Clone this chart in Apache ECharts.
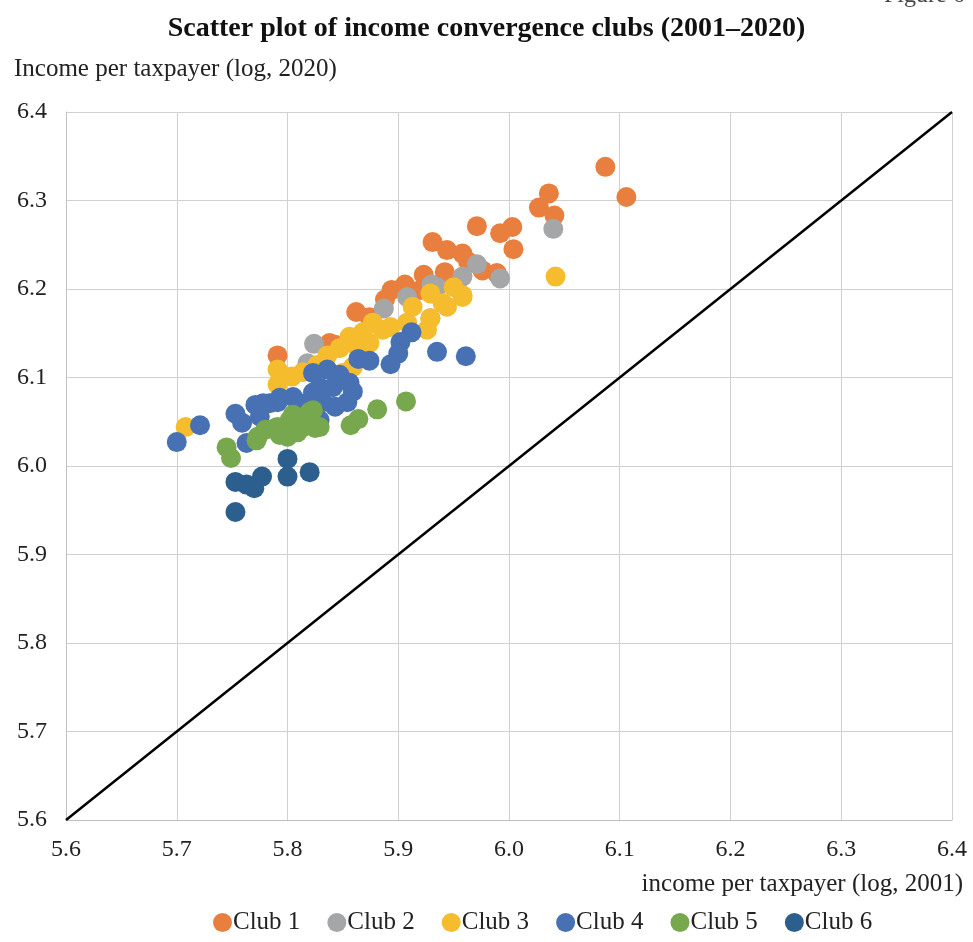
<!DOCTYPE html>
<html>
<head>
<meta charset="utf-8">
<script src="https://cdn.jsdelivr.net/npm/echarts@6/dist/echarts.min.js"></script>
<style>
  html, body { margin: 0; padding: 0; background: #fff; }
  #chart { width: 973px; height: 942px; }
</style>
</head>
<body>
<div id="chart"></div>
<script>
// Log income per taxpayer: [2001, 2020] for each region, grouped by club
const club1 = [
  [6.087, 6.338], [6.106, 6.304], [6.036, 6.308], [6.027, 6.292], [6.041, 6.283],
  [6.003, 6.270], [5.992, 6.263], [6.004, 6.245], [5.971, 6.271], [5.931, 6.253],
  [5.944, 6.244], [5.958, 6.240], [5.976, 6.221], [5.989, 6.218], [5.942, 6.219],
  [5.923, 6.216], [5.906, 6.205], [5.894, 6.199], [5.862, 6.174], [5.874, 6.168],
  [5.838, 6.139], [5.791, 6.125], [5.843, 6.137], [5.963, 6.231], [5.920, 6.199],
  [5.888, 6.188]
];
const club2 = [
  [6.040, 6.268], [5.992, 6.212], [5.971, 6.228], [5.958, 6.214], [5.930, 6.205],
  [5.908, 6.191], [5.887, 6.178], [5.824, 6.138], [5.818, 6.116], [5.935, 6.202],
  [5.929, 6.167]
];
const club3 = [
  [6.042, 6.214], [5.708, 6.044], [5.929, 6.195], [5.950, 6.202], [5.958, 6.191],
  [5.913, 6.180], [5.940, 6.184], [5.926, 6.154], [5.929, 6.167], [5.877, 6.162],
  [5.893, 6.157], [5.908, 6.162], [5.856, 6.146], [5.868, 6.151], [5.886, 6.154],
  [5.874, 6.139], [5.863, 6.134], [5.847, 6.133], [5.944, 6.180], [5.958, 6.193],
  [5.836, 6.125], [5.827, 6.114], [5.814, 6.106], [5.804, 6.101], [5.791, 6.109],
  [5.791, 6.092], [5.859, 6.112], [5.850, 6.105], [5.865, 6.139]
];
const club4 = [
  [5.935, 6.129], [5.961, 6.124], [5.912, 6.151], [5.902, 6.140], [5.900, 6.127],
  [5.893, 6.115], [5.864, 6.121], [5.874, 6.119], [5.721, 6.046], [5.700, 6.027],
  [5.753, 6.059], [5.759, 6.049], [5.771, 6.069], [5.763, 6.026], [5.784, 6.071],
  [5.793, 6.077], [5.805, 6.078], [5.775, 6.056], [5.809, 6.060], [5.829, 6.052],
  [5.820, 6.056], [5.823, 6.105], [5.836, 6.109], [5.847, 6.103], [5.856, 6.094],
  [5.859, 6.084], [5.854, 6.072], [5.843, 6.067], [5.832, 6.072], [5.823, 6.083],
  [5.829, 6.089], [5.841, 6.089], [5.791, 6.072], [5.811, 6.071], [5.778, 6.071]
];
const club5 = [
  [5.907, 6.073], [5.881, 6.064], [5.864, 6.053], [5.857, 6.046], [5.745, 6.021],
  [5.749, 6.009], [5.773, 6.033], [5.789, 6.043], [5.805, 6.058], [5.820, 6.061],
  [5.825, 6.043], [5.809, 6.038], [5.800, 6.033], [5.814, 6.044], [5.829, 6.044],
  [5.802, 6.052], [5.791, 6.044], [5.780, 6.041], [5.793, 6.035], [5.823, 6.063],
  [5.772, 6.029]
];
const club6 = [
  [5.753, 5.982], [5.763, 5.979], [5.770, 5.975], [5.777, 5.988], [5.753, 5.948],
  [5.800, 6.008], [5.800, 5.988], [5.820, 5.993]
];

const clubNames = ['Club 1', 'Club 2', 'Club 3', 'Club 4', 'Club 5', 'Club 6'];
const clubColors = ['#E97F3E', '#A5A6A8', '#F5BC2E', '#4771B2', '#77A84E', '#2D5F8E'];
const clubData = [club1, club2, club3, club4, club5, club6];

// 45-degree reference line (y = x) across the full axis range
const axisRange = [5.6, 6.4];
const diagonal = axisRange.map(v => [v, v]);

const serif = "'Liberation Serif', 'DejaVu Serif', serif";

const chart = echarts.init(document.getElementById('chart'));

const series = clubNames.map((name, i) => ({
  name: name,
  type: 'scatter',
  data: clubData[i],
  symbol: 'circle',
  symbolSize: 20,
  itemStyle: { color: clubColors[i], opacity: 1 },
  z: 3 + i
}));

series.push({
  name: 'y = x',
  type: 'line',
  data: diagonal,
  symbol: 'none',
  lineStyle: { color: '#000', width: 2.5 },
  z: 2,
  silent: true
});

chart.setOption({
  animation: false,
  backgroundColor: '#fff',
  textStyle: { fontFamily: serif },
  title: {
    text: 'Scatter plot of income convergence clubs (2001\u20132020)',
    left: 'center',
    top: 10,
    textStyle: { fontFamily: serif, fontSize: 28, fontWeight: 'bold', color: '#111' }
  },
  graphic: [
    {
      type: 'text',
      left: 884,
      top: -16,
      style: { text: 'Figure 6', font: "24px " + serif, fill: '#444' }
    },
    {
      type: 'text',
      left: 14,
      top: 57,
      style: { text: 'Income per taxpayer (log, 2020)', font: "25px " + serif, fill: '#222' }
    },
    {
      type: 'text',
      right: 10,
      top: 872,
      style: { text: 'income per taxpayer (log, 2001)', font: "25px " + serif, fill: '#222' }
    }
  ],
  legend: {
    data: clubNames,
    bottom: 2,
    left: 208,
    icon: 'circle',
    itemWidth: 19,
    itemHeight: 19,
    itemGap: 27,
    textStyle: { fontFamily: serif, fontSize: 25, color: '#222', padding: [0, 0, 0, -4] }
  },
  grid: { left: 66, right: 21, top: 112, bottom: 122 },
  xAxis: {
    type: 'value',
    min: 5.6,
    max: 6.4,
    interval: 0.1,
    axisLine: { show: true, lineStyle: { color: '#BFBFBF', width: 1 } },
    axisTick: { show: false },
    axisLabel: {
      fontFamily: serif, fontSize: 24, color: '#222', margin: 18,
      formatter: v => v.toFixed(1)
    },
    splitLine: { show: true, lineStyle: { color: '#D0D0D0', width: 1 } }
  },
  yAxis: {
    type: 'value',
    min: 5.6,
    max: 6.4,
    interval: 0.1,
    axisLine: { show: true, lineStyle: { color: '#BFBFBF', width: 1 } },
    axisTick: { show: false },
    axisLabel: {
      fontFamily: serif, fontSize: 24, color: '#222', margin: 19,
      formatter: v => v.toFixed(1)
    },
    splitLine: { show: true, lineStyle: { color: '#D0D0D0', width: 1 } }
  },
  series: series
});
</script>
</body>
</html>
